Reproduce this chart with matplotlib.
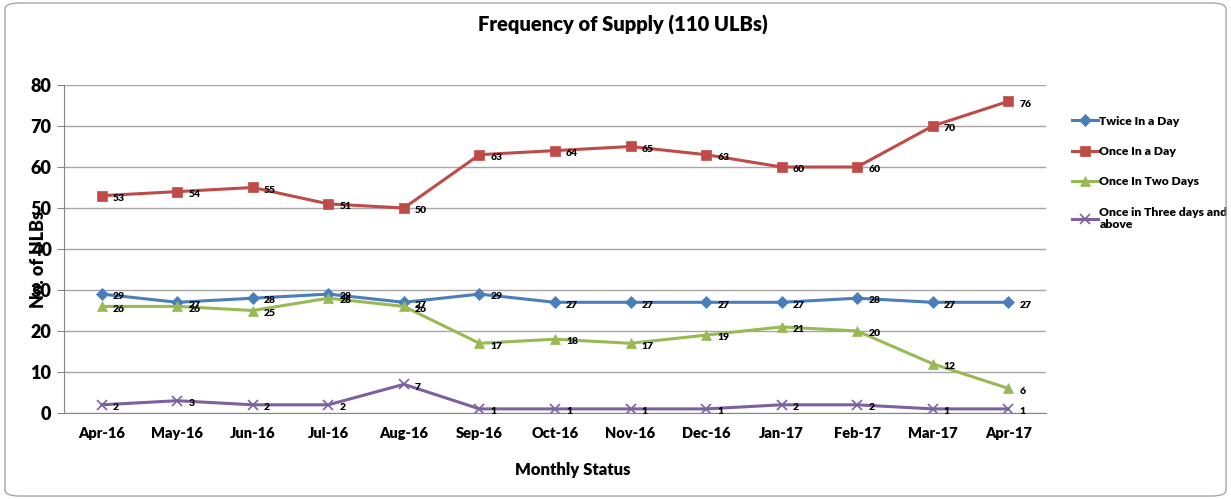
import matplotlib
matplotlib.use("Agg")
import matplotlib.pyplot as plt
from matplotlib.patches import FancyBboxPatch

months = ["Apr-16", "May-16", "Jun-16", "Jul-16", "Aug-16", "Sep-16", "Oct-16",
          "Nov-16", "Dec-16", "Jan-17", "Feb-17", "Mar-17", "Apr-17"]
twice_a_day = [29, 27, 28, 29, 27, 29, 27, 27, 27, 27, 28, 27, 27]
once_a_day = [53, 54, 55, 51, 50, 63, 64, 65, 63, 60, 60, 70, 76]
once_two_days = [26, 26, 25, 28, 26, 17, 18, 17, 19, 21, 20, 12, 6]
once_three_days = [2, 3, 2, 2, 7, 1, 1, 1, 1, 2, 2, 1, 1]

series = [
    ("Twice In a Day", twice_a_day, "#4A7EBB", "D", 6),
    ("Once In a Day", once_a_day, "#BE4B48", "s", 7),
    ("Once In Two Days", once_two_days, "#98B954", "^", 7),
    ("Once in Three days and\nabove", once_three_days, "#7D60A0", "x", 7),
]

BOLD = "heavy"
plt.rcParams["font.family"] = ["Lato", "DejaVu Sans"]
plt.rcParams["font.weight"] = BOLD

fig = plt.figure(figsize=(12.31, 4.99), dpi=100)
ax = fig.add_axes([64 / 1231, 1 - 413 / 499, 982 / 1231, 328 / 499])

# rounded border round the whole chart
fig.patches.append(FancyBboxPatch(
    (0.004, 0.006), 0.992, 0.988, boxstyle="round,pad=0,rounding_size=0.012",
    transform=fig.transFigure, fill=False, edgecolor="#A6A6A6", linewidth=1.0))

x = list(range(len(months)))
for label, vals, color, marker, ms in series:
    ax.plot(x, vals, color=color, linewidth=2.2, marker=marker, markersize=ms,
            markeredgewidth=1.2 if marker == "x" else 0.5,
            markeredgecolor=color, label=label)
    for xi, v in zip(x, vals):
        ax.annotate(str(v), (xi, v), xytext=(8, -2), textcoords="offset points",
                    ha="left", va="center", fontsize=7.5, fontweight=BOLD,
                    color="black")

ax.set_xlim(-0.5, len(months) - 0.5)
ax.set_ylim(0, 80)
ax.set_yticks(range(0, 81, 10))
ax.set_xticks(x)
ax.set_xticklabels(months)
ax.tick_params(axis="y", labelsize=13, length=5, color="#868686", pad=4)
ax.tick_params(axis="x", labelsize=10.5, length=0, pad=10)
ax.grid(axis="y", color="#A6A6A6", linewidth=1.0)
ax.set_axisbelow(True)
for side in ("top", "right"):
    ax.spines[side].set_visible(False)
for side in ("left", "bottom"):
    ax.spines[side].set_color("#868686")

fig.text(623 / 1231, 1 - 25 / 499, "Frequency of Supply (110 ULBs)", ha="center",
         va="center", fontsize=14.5, fontweight=BOLD)
fig.text(573 / 1231, 1 - 470 / 499, "Monthly Status", ha="center", va="center",
         fontsize=12, fontweight=BOLD)
fig.text(38 / 1231, 1 - 260 / 499, "No. of ULBs", ha="center", va="center",
         rotation=90, fontsize=13, fontweight=BOLD)

ax.legend(loc="upper left", bbox_to_anchor=(1.015, 0.94), frameon=False,
          handlelength=2.2, handletextpad=0.1, labelspacing=1.6,
          prop={"weight": BOLD, "size": 8.7})

fig.savefig("out.png", dpi=100, facecolor="white")
